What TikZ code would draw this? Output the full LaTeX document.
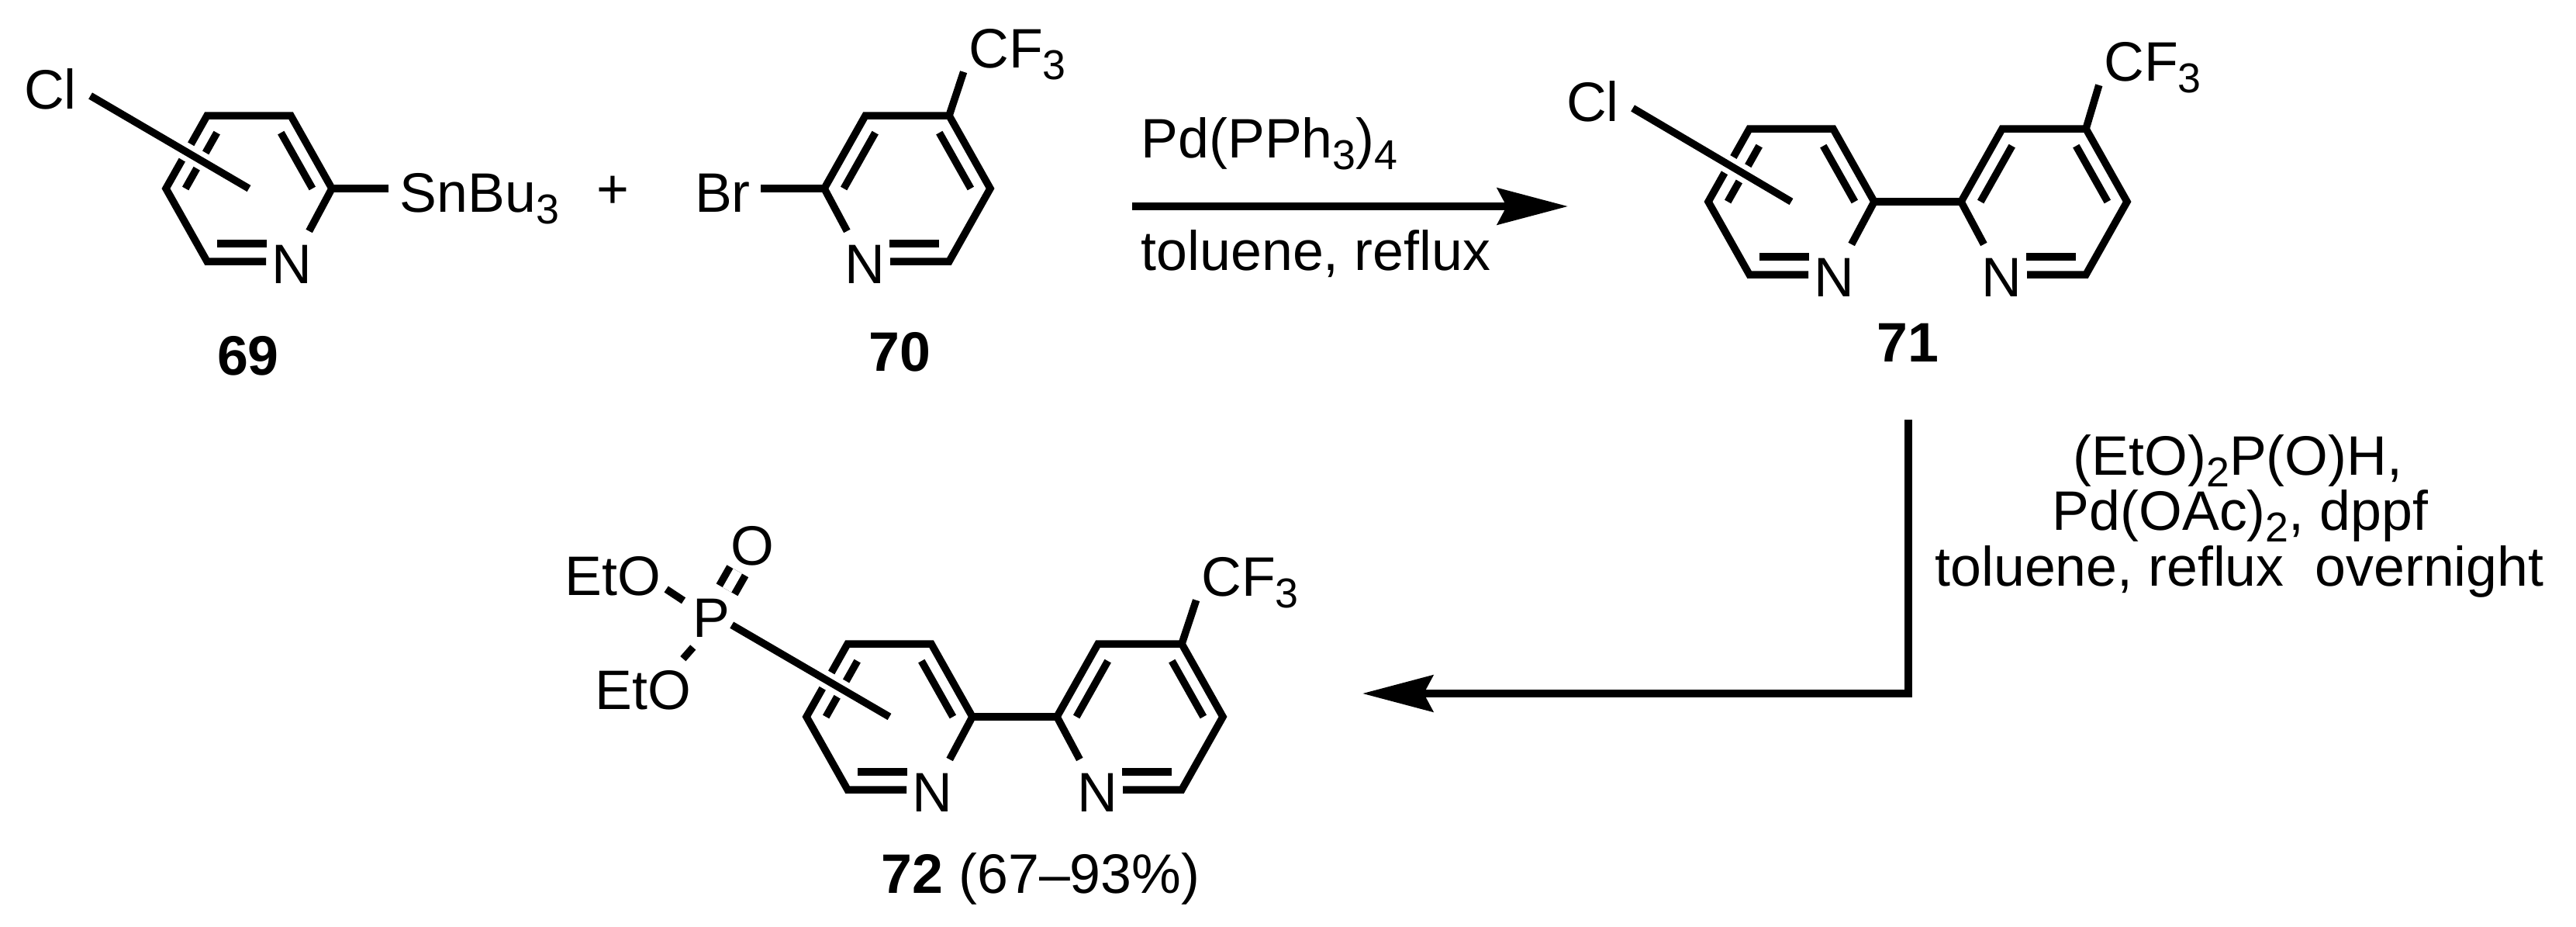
\documentclass[tikz,border=0pt]{standalone}
\usepackage{fontspec}
\setmainfont{Liberation Sans}
\usetikzlibrary{calc, positioning, arrows.meta}
\tikzset{
    lbl/.style = {font=\fontsize{20.4}{24}\selectfont, inner sep=0pt, anchor=base},
    atom/.style = {lbl, inner sep=.13cm},
    cmpd/.style = {lbl, font=\fontsize{20.4}{24}\selectfont\bfseries},
    halo bond/.style = {preaction={draw, line width=.23cm, color=white}},
    rxn arrow/.style = {-{Stealth[length=.91cm, width=.47cm, inset=.12cm]}, line width=.095cm},
}
\newcommand{\chemsub}[1]{\raisebox{-.22em}{\fontsize{15.3}{15.3}\selectfont #1}}
\newcommand{\pyridine}[3]{
    \begin{scope}[shift={(#2)}, xscale=#3]
        \coordinate (#1c) at (0, 0);
        \coordinate (#1a) at (-.54, .94);
        \coordinate (#1b) at (.54, .94);
        \coordinate (#1d) at (1.07, 0);
        \coordinate (#1e) at (.54, -.94);
        \coordinate (#1f) at (-.54, -.94);
        \coordinate (#1g) at (-1.07, 0);
        \node[atom, inner xsep=.07cm] (#1n) at (.55, -1.22) {N};
    \end{scope}
    \draw [shorten >=.33cm] (#1n) -- (#1d) -- (#1b) -- (#1a) -- (#1g) -- (#1f) -- (#1f -| #1n.center);
    \draw ($(#1a)!.235!(#1c)$) -- ($(#1g)!.235!(#1c)$);
    \draw ($(#1b)!.235!(#1c)$) -- ($(#1d)!.235!(#1c)$);
    \draw [shorten >=.18cm] ($(#1f)!.245!(#1c)$) -- ($(#1e)!.245!(#1c)$);
}

\begin{document}
\begin{tikzpicture}[line width=.095cm]
            \useasboundingbox (0, 0) rectangle (33.22, -11.94);

            \pyridine{p69}{3.21, -2.43}{1}
            \pyridine{p70}{11.70, -2.43}{-1}
            \pyridine{p71}{23.10, -2.60}{1}
            \pyridine{q71}{26.36, -2.60}{-1}
            \pyridine{p72}{11.47, -9.24}{1}
            \pyridine{q72}{14.70, -9.24}{-1}

            \node[atom] (cl69) at (.65, -1.40) {Cl};
            \node[atom, inner xsep=.1cm] (sn) at (6.185, -2.73) {SnBu\chemsub{3}};
            \node[lbl] (plus) at (7.90, -2.68) {+};
            \node[atom, inner xsep=.08cm] (br) at (9.32, -2.73) {Br};
            \node[lbl] (cf70) at (13.12, -.87) {CF\chemsub{3}};
            \node[atom] (cl71) at (20.54, -1.56) {Cl};
            \node[lbl] (cf71) at (27.76, -1.04) {CF\chemsub{3}};
            \node[lbl] (cf72) at (16.12, -7.68) {CF\chemsub{3}};

            \node[atom, inner sep=.11cm] (p) at (9.17, -8.21) {P};
            \node[atom, inner sep=.08cm] (o) at (9.70, -7.28) {O};
            \node[atom, inner sep=.06cm] (etoa) at (7.90, -7.67) {EtO};
            \node[atom, inner sep=.06cm, inner ysep=.1cm] (etob) at (8.295, -9.14) {EtO};

            \node[cmpd] (c69) at (3.20, -4.83) {69};
            \node[cmpd] (c70) at (11.60, -4.78) {70};
            \node[cmpd] (c71) at (24.60, -4.66) {71};
            \node[lbl] (c72) at (13.42, -11.51) {{\bfseries 72} (67--93\%)};

            \node[lbl] (pd) at (16.37, -2.03) {Pd(PPh\chemsub{3})\chemsub{4}};
            \node[lbl] (tol) at (16.97, -3.48) {toluene, reflux};
            \node[lbl] (etp) at (28.86, -6.12) {(EtO)\chemsub{2}P(O)H,};
            \node[lbl] (oac) at (28.89, -6.83) {Pd(OAc)\chemsub{2}, dppf};
            \node[lbl] (tolb) at (28.88, -7.55) {toluene, reflux\ \ overnight};

            \coordinate (a1) at (14.60, -2.66);
            \coordinate (a2) at (20.22, -2.66);
            \coordinate (b1) at (24.61, -5.41);
            \coordinate (b2) at (24.61, -8.94);
            \coordinate (b3) at (17.57, -8.94);

            \draw (p69d) -- (p69d -| sn.west);
            \draw (p70d) -- (p70d -| br.east);
            \draw [shorten >=.06cm] (p70a) -- (cf70.base west);
            \draw (p71d) -- (q71d);
            \draw [shorten >=.06cm] (q71a) -- (cf71.base west);
            \draw (p72d) -- (q72d);
            \draw [shorten >=.06cm] (q72a) -- (cf72.base west);

            \draw [halo bond] (cl69.-10) -- (p69c);
            \draw [halo bond] (cl71.-10) -- (p71c);
            \draw [halo bond, shorten <=-.15cm] (p.-23) -- (p72c);

            \draw [shorten <=-.04cm, shorten >=-.05cm] (etoa.-15) -- (p.148);
            \draw [shorten >=-.03cm] (etob.38) -- (p.-122);
            \draw [double, double distance=.13cm, shorten <=-.05cm, shorten >=-.06cm] (p) -- (o);

            \draw [rxn arrow] (a1) -- (a2);
            \draw [rxn arrow] (b1) -- (b2) -- (b3);
\end{tikzpicture}
\end{document}
